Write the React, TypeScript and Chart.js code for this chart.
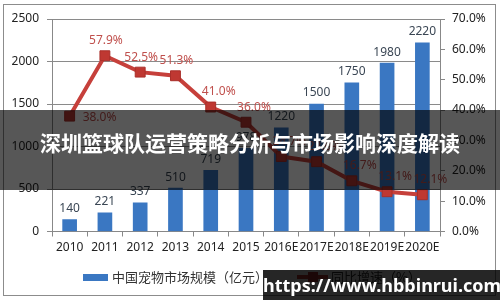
import React, { useEffect, useRef } from "react";
import { Chart, registerables } from "chart.js";

Chart.register(...registerables);

const categories = ["2010", "2011", "2012", "2013", "2014", "2015", "2016E", "2017E", "2018E", "2019E", "2020E"];
const marketSize = [140, 221, 337, 510, 719, 978, 1220, 1500, 1750, 1980, 2220];
const growthRate = [38.0, 57.9, 52.5, 51.3, 41.0, 36.0, 24.7, 23.0, 16.7, 13.1, 12.1];
const barLabel = "中国宠物市场规模（亿元）";
const lineLabel = "同比增速（%）";
const bannerText = "深圳篮球队运营策略分析与市场影响深度解读";
const watermarkText = "https://www.hbbinrui.com";

const BAR_COLOR = "#3a77c2";
const LINE_COLOR = "#c6403b";
const TICK_FONT = { family: "'Noto Sans', sans-serif", size: 12 };

export default function App() {
  const ref = useRef<HTMLCanvasElement | null>(null);

  useEffect(() => {
    if (!ref.current) return;
    const labelsPlugin = {
      id: "valueLabels",
      afterDatasetsDraw(chart: any) {
        const ctx = chart.ctx;
        ctx.save();
        ctx.font = "12px 'Noto Sans', sans-serif";
        const barMeta = chart.getDatasetMeta(0);
        ctx.fillStyle = "#3a4654";
        ctx.textAlign = "center";
        ctx.textBaseline = "bottom";
        barMeta.data.forEach((el: any, i: number) => {
          ctx.fillText(String(marketSize[i]), el.x, el.y - 5);
        });
        const lineMeta = chart.getDatasetMeta(1);
        ctx.fillStyle = "#c0504d";
        lineMeta.data.forEach((el: any, i: number) => {
          const txt = growthRate[i].toFixed(1) + "%";
          if (i === 0) {
            ctx.textAlign = "left";
            ctx.textBaseline = "middle";
            ctx.fillText(txt, el.x + 13, el.y + 1);
          } else {
            ctx.textAlign = "center";
            ctx.textBaseline = "bottom";
            ctx.fillText(txt, el.x + (i < 4 ? 1 : 8), el.y - 9);
          }
        });
        ctx.restore();
      },
    };
    const legendPlugin = {
      id: "customLegend",
      afterDraw(chart: any) {
        const ctx = chart.ctx;
        ctx.save();
        ctx.font = "13px 'Noto Sans CJK SC', sans-serif";
        ctx.textBaseline = "middle";
        ctx.textAlign = "left";
        ctx.fillStyle = BAR_COLOR;
        ctx.fillRect(83, 274, 25, 7);
        ctx.fillStyle = "#333";
        ctx.fillText(chart.data.datasets[0].label, 112, 277);
        ctx.strokeStyle = LINE_COLOR;
        ctx.lineWidth = 4;
        ctx.beginPath();
        ctx.moveTo(297, 277);
        ctx.lineTo(328, 277);
        ctx.stroke();
        ctx.fillStyle = "#b5332e";
        ctx.fillRect(308, 272, 10, 10);
        ctx.fillStyle = "#333";
        ctx.fillText(chart.data.datasets[1].label, 331, 277);
        ctx.restore();
      },
    };

    const chart = new Chart(ref.current, {
      type: "bar",
      data: {
        labels: categories,
        datasets: [
          {
            type: "bar",
            label: barLabel,
            data: marketSize,
            backgroundColor: BAR_COLOR,
            barThickness: 14,
            yAxisID: "y",
            order: 2,
          },
          {
            type: "line",
            label: lineLabel,
            data: growthRate,
            borderColor: LINE_COLOR,
            borderWidth: 4,
            pointStyle: "rect",
            pointRadius: 7,
            pointBackgroundColor: "#bf3832",
            pointBorderColor: "#a92f2a",
            pointBorderWidth: 1,
            tension: 0,
            yAxisID: "y1",
            order: 1,
          },
        ],
      },
      options: {
        responsive: false,
        animation: false,
        layout: { padding: { top: 19, left: 0, right: 0, bottom: 0 } },
        plugins: { legend: { display: false }, tooltip: { enabled: false } },
        scales: {
          x: {
            grid: { drawOnChartArea: false, tickLength: 5, color: "#888", offset: true },
            border: { color: "#888" },
            ticks: { font: TICK_FONT, color: "#222", padding: 4, maxRotation: 0, autoSkip: false },
            afterFit(scale: any) {
              scale.height = 68.5;
            },
          },
          y: {
            position: "left",
            min: 0,
            max: 2500,
            ticks: {
              stepSize: 500,
              font: TICK_FONT,
              color: "#222",
              padding: 8,
              callback: (v: any) => String(v),
            },
            grid: { color: "#8a8a8a", tickLength: 5 },
            border: { color: "#888" },
            afterFit(scale: any) {
              scale.width = 52;
            },
          },
          y1: {
            position: "right",
            min: 0,
            max: 70,
            ticks: {
              stepSize: 10,
              font: TICK_FONT,
              color: "#222",
              padding: 7,
              callback: (v: any) => Number(v).toFixed(1) + "%",
            },
            grid: { drawOnChartArea: false, tickLength: 5, color: "#888" },
            border: { color: "#888" },
            afterFit(scale: any) {
              scale.width = 60;
            },
          },
        },
      },
      plugins: [labelsPlugin, legendPlugin],
    } as any);
    return () => chart.destroy();
  }, []);

  return (
    <div style={{ position: "absolute", left: 0, top: 0, width: 500, height: 300, background: "#fff", overflow: "hidden" }}>
      <canvas ref={ref} width={500} height={300} style={{ position: "absolute", left: 0, top: 0 }} />
      <div
        style={{
          position: "absolute",
          left: 3,
          top: 4,
          width: 493,
          height: 292,
          border: "1px solid #8c8c8c",
          boxSizing: "border-box",
          pointerEvents: "none",
        }}
      />
      <div
        style={{
          position: "absolute",
          left: 0,
          top: 110,
          width: 500,
          height: 80,
          background: "rgba(0,0,0,0.66)",
        }}
      />
      <div
        style={{
          position: "absolute",
          left: 0,
          top: 127,
          width: 500,
          textAlign: "center",
          color: "#fff",
          fontFamily: "'Noto Sans CJK SC', sans-serif",
          fontWeight: 700,
          fontSize: 21,
          lineHeight: "30px",
          whiteSpace: "nowrap",
        }}
      >
        {bannerText}
      </div>
      <div
        style={{
          position: "absolute",
          left: 263,
          top: 270,
          width: 237,
          height: 30,
          background: "rgba(0,0,0,0.85)",
          color: "#fff",
          fontFamily: "'Noto Sans', sans-serif",
          fontWeight: 700,
          fontSize: 18,
          lineHeight: "30px",
          textAlign: "center",
          whiteSpace: "nowrap",
        }}
      >
        {watermarkText}
      </div>
    </div>
  );
}
